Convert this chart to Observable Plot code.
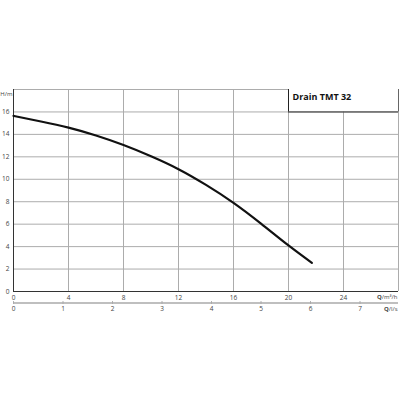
<!DOCTYPE html>
<html>
<head>
<meta charset="utf-8">
<script src="https://cdn.jsdelivr.net/npm/d3@7"></script>
<script src="https://cdn.jsdelivr.net/npm/@observablehq/plot@0.6"></script>
<style>
  html, body { margin: 0; padding: 0; background: #fff; }
  svg { display: block; }
</style>
</head>
<body>
<div id="chart"></div>
<script>
const flowM3h = [0, 2, 4, 6, 8, 10, 12, 14, 16, 18, 20, 21.7];
const headM = [15.65, 15.15, 14.6, 13.9, 13.05, 12.05, 10.9, 9.5, 7.9, 6.05, 4.1, 2.55];
const xTicks = [0, 4, 8, 12, 16, 20, 24];
const yTicks = [0, 2, 4, 6, 8, 10, 12, 14, 16];
const lsTicks = [0, 1, 2, 3, 4, 5, 6, 7];
const title = "Drain TMT 32";
const yLabel = "H/m";
const xLabel = "Q/m³/h";
const x2Label = "Q/l/s";

const curve = flowM3h.map((q, i) => ({q, h: headM[i]}));
const lsData = lsTicks.map(v => ({v, q: v * 3.6}));

const grid = "#acacac";
const ink = "#444";

const chart = Plot.plot({
  width: 400,
  height: 400,
  marginLeft: 13,
  marginRight: 2,
  marginTop: 89,
  marginBottom: 109,
  style: {fontFamily: "Open Sans, sans-serif", fontSize: "6.5px", color: ink, background: "#fff"},
  x: {type: "linear", domain: [0, 28], axis: null},
  y: {type: "linear", domain: [0, 18], axis: null},
  marks: [
    Plot.ruleY(yTicks.concat([18]).filter(d => d > 0), {stroke: grid, strokeWidth: 1}),
    Plot.ruleX(xTicks.concat([28]).filter(d => d > 0), {stroke: grid, strokeWidth: 1}),
    Plot.rect([{}], {x1: 20, x2: 28, y1: 16, y2: 18, fill: "#fff"}),
    Plot.ruleX([20], {y1: 16, y2: 18, stroke: "#222", strokeWidth: 1}),
    Plot.ruleY([16], {x1: 20, x2: 28, stroke: "#222", strokeWidth: 1}),
    Plot.ruleX([28], {y1: 16, y2: 18, stroke: "#666", strokeWidth: 1}),
    Plot.text([title], {x: 20, y: 18, dx: 4, dy: 8, textAnchor: "start", fontWeight: "bold", fontSize: 9, fill: "#111"}),
    Plot.ruleX([0], {stroke: "#333", strokeWidth: 1}),
    Plot.ruleY([0], {stroke: "#333", strokeWidth: 1}),
    Plot.line(curve, {x: "q", y: "h", curve: "natural", stroke: "#111", strokeWidth: 2.2}),
    Plot.text(yTicks, {x: 0, y: d => d, text: d => String(d), dx: -4, textAnchor: "end", fill: ink}),
    Plot.text([yLabel], {x: 0, y: 18, dx: -1, dy: 5, textAnchor: "end", fill: ink, fontSize: 6}),
    Plot.text(xTicks, {x: d => d, y: 0, text: d => String(d), dy: 6, fill: ink}),
    Plot.text([xLabel], {x: 28, y: 0, dx: -1, dy: 6, textAnchor: "end", fill: ink, fontSize: 6}),
    Plot.ruleY([0], {x1: 0, x2: 28, dy: 11.5, stroke: "#aaa", strokeWidth: 1.5}),
    Plot.ruleX(lsData, {x: "q", y1: -0.9, y2: -1.15, stroke: "#aaa", strokeWidth: 1}),
    Plot.text(lsData, {x: "q", y: 0, text: d => String(d.v), dy: 17.5, fill: ink}),
    Plot.text([x2Label], {x: 28, y: 0, dx: -1, dy: 17.5, textAnchor: "end", fill: ink, fontSize: 6})
  ]
});

// Bold "Q" in axis labels
d3.select(chart).selectAll("text").each(function() {
  const t = this.textContent;
  if (t === xLabel || t === x2Label) {
    const sel = d3.select(this);
    const rest = t.slice(1);
    sel.text(null);
    sel.append("tspan").attr("font-weight", "bold").text("Q");
    sel.append("tspan").text(rest);
  }
});

document.getElementById("chart").append(chart);
</script>
</body>
</html>
